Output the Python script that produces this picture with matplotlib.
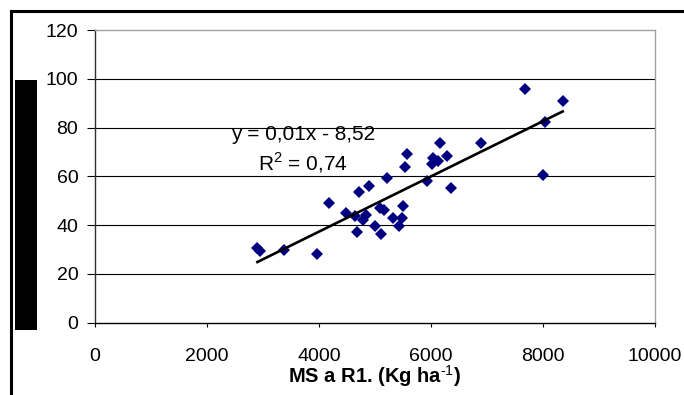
import numpy as np
import matplotlib
matplotlib.use("Agg")
import matplotlib.pyplot as plt
from matplotlib.patches import Rectangle
from matplotlib.lines import Line2D

plt.rcParams['font.family'] = ['Liberation Sans', 'DejaVu Sans']
plt.rcParams['mathtext.fontset'] = 'custom'
plt.rcParams['mathtext.rm'] = 'Liberation Sans'
plt.rcParams['mathtext.bf'] = 'Liberation Sans:bold'

# dry matter at R1 (kg/ha) and the response variable
ms_r1 = [2900, 2950, 3380, 3958, 4179, 4482, 4673, 4643, 4708, 4792,
         4845, 4896, 5000, 5095, 5155, 5104, 5208, 5322, 5432, 5482,
         5500, 5536, 5565, 5937, 6020, 6035, 6131, 6167, 6280, 6351,
         6890, 7679, 7994, 8036, 8351]
resp = [30.5, 29.5, 29.6, 28.0, 49.2, 44.8, 37.0, 43.6, 53.4, 42.0,
        44.1, 55.9, 39.8, 46.8, 46.3, 36.4, 59.2, 42.7, 39.4, 43.0,
        47.8, 64.0, 69.0, 58.2, 65.0, 67.4, 66.3, 73.8, 68.2, 55.1,
        73.8, 95.8, 60.6, 82.1, 91.0]

x_ticks = [0, 2000, 4000, 6000, 8000, 10000]
y_ticks = [0, 20, 40, 60, 80, 100, 120]

fig = plt.figure(figsize=(6.84, 3.95), dpi=100)
ax = fig.add_axes([0.1389, 0.1835, 0.8187, 0.7405])

ax.set_xlim(0, 10000)
ax.set_ylim(0, 120)
ax.set_xticks(x_ticks)
ax.set_yticks(y_ticks)

# gridlines
for yv in y_ticks[1:-1]:
    ax.axhline(yv, color='black', lw=0.8, zorder=1)

ax.plot(ms_r1, resp, linestyle='none', marker='D', ms=6.6,
        color='#000080', markeredgewidth=0, zorder=3)

# linear trend
coef = np.polyfit(ms_r1, resp, 1)
xs = np.array([min(ms_r1), max(ms_r1)])
ax.plot(xs, np.polyval(coef, xs), color='black', lw=1.9, zorder=4)

ax.text(3715, 77.3, 'y = 0,01x - 8,52', fontsize=15, ha='center', va='center')
ax.text(3715, 65.4, 'R$^2$ = 0,74', fontsize=15, ha='center', va='center')

ax.spines['top'].set_color('#a0a0a0')
ax.spines['right'].set_color('#a0a0a0')
ax.spines['left'].set_color('#303030')
ax.spines['bottom'].set_color('black')
for s in ax.spines.values():
    s.set_linewidth(1.0)

ax.tick_params(axis='y', length=6, pad=6, labelsize=14, direction='out')
ax.tick_params(axis='x', length=3, pad=15, labelsize=14, direction='out')

ax.set_xlabel(r'MS a R1. (Kg ha$^{\text{-1}}$)', fontsize=14.5, fontweight='bold', labelpad=-1)

# outer frame lines and the blacked-out y label
fig.add_artist(Line2D([11 / 684, 1], [1 - 11 / 395] * 2, color='black', lw=2.2,
                      transform=fig.transFigure))
fig.add_artist(Line2D([11 / 684] * 2, [0, 1 - 11 / 395], color='black', lw=2.2,
                      transform=fig.transFigure))
fig.add_artist(Rectangle((15 / 684, 1 - 330 / 395), 22 / 684, 250 / 395,
                         facecolor='black', edgecolor='none',
                         transform=fig.transFigure))

fig.savefig('out.png', dpi=100)
